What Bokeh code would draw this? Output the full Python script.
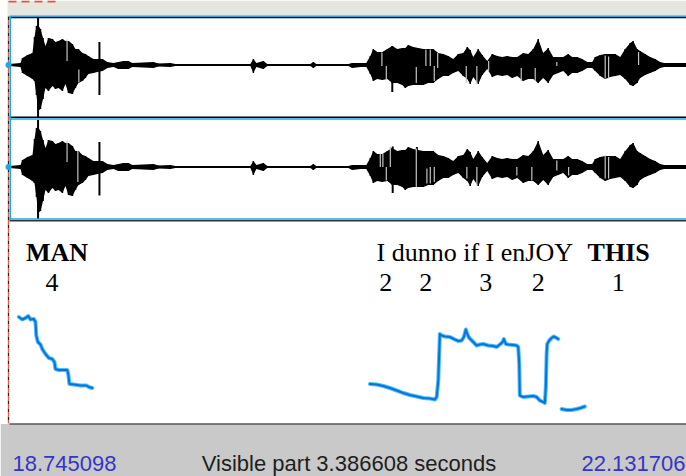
from bokeh.plotting import figure
from bokeh.models import Range1d, ColumnDataSource
from bokeh.embed import file_html
from bokeh.resources import INLINE
from bokeh.core.properties import value

# ---------------- data ----------------
T_START = 18.745098
T_END = 22.131706
VISIBLE = "Visible part 3.386608 seconds"

# waveform envelope (same signal in both channels), time in s, amplitude normalised
env_t = [18.745, 18.800, 18.810, 18.835, 18.860, 18.870, 18.880, 18.888, 18.900, 18.913,
         18.925, 18.940, 18.960, 18.975, 18.990, 19.010, 19.025, 19.040, 19.060, 19.075,
         19.090, 19.110, 19.125, 19.140, 19.165, 19.185, 19.210, 19.235, 19.265, 19.290,
         19.315, 19.340, 19.360, 19.465, 19.490, 19.550, 19.575, 19.950, 19.965, 19.980,
         20.015, 20.035, 20.250, 20.265, 20.280, 20.440, 20.460, 20.500, 20.530, 20.550,
         20.565, 20.585, 20.610, 20.635, 20.660, 20.685, 20.710, 20.725, 20.740, 20.765,
         20.790, 20.815, 20.840, 20.865, 20.890, 20.915, 20.940, 20.965, 20.990, 21.015,
         21.035, 21.050, 21.065, 21.090, 21.110, 21.135, 21.160, 21.185, 21.210, 21.235,
         21.260, 21.285, 21.315, 21.340, 21.365, 21.390, 21.415, 21.440, 21.465, 21.490,
         21.515, 21.540, 21.560, 21.585, 21.610, 21.635, 21.660, 21.675, 21.700, 21.725,
         21.750, 21.775, 21.800, 21.825, 21.850, 21.865, 21.885, 21.900, 21.925, 21.950,
         21.975, 22.000, 22.020, 22.132]
env_up = [0.02, 0.04, 0.14, 0.20, 0.24, 0.56, 0.78, 0.80, 0.72, 0.54,
          0.38, 0.54, 0.52, 0.46, 0.48, 0.52, 0.48, 0.48, 0.42, 0.32,
          0.32, 0.24, 0.22, 0.18, 0.12, 0.12, 0.12, 0.06, 0.04, 0.06,
          0.08, 0.08, 0.04, 0.06, 0.03, 0.04, 0.02, 0.02, 0.12, 0.04,
          0.08, 0.02, 0.02, 0.06, 0.02, 0.02, 0.04, 0.04, 0.04, 0.18,
          0.32, 0.26, 0.26, 0.32, 0.38, 0.32, 0.34, 0.34, 0.40, 0.36,
          0.34, 0.32, 0.32, 0.32, 0.24, 0.22, 0.18, 0.12, 0.22, 0.24,
          0.36, 0.30, 0.16, 0.32, 0.20, 0.08, 0.22, 0.18, 0.16, 0.18,
          0.16, 0.16, 0.24, 0.22, 0.32, 0.52, 0.24, 0.34, 0.16, 0.16,
          0.16, 0.22, 0.16, 0.16, 0.12, 0.06, 0.06, 0.16, 0.20, 0.22,
          0.22, 0.22, 0.16, 0.32, 0.44, 0.48, 0.32, 0.28, 0.22, 0.16,
          0.12, 0.06, 0.04, 0.04]
env_lo = [-0.02, -0.04, -0.16, -0.22, -0.28, -0.32, -0.60, -0.92, -0.88, -0.68,
          -0.46, -0.52, -0.42, -0.48, -0.46, -0.52, -0.38, -0.56, -0.58, -0.46,
          -0.36, -0.32, -0.26, -0.18, -0.16, -0.14, -0.12, -0.06, -0.04, -0.08,
          -0.08, -0.08, -0.04, -0.06, -0.03, -0.04, -0.02, -0.02, -0.16, -0.04,
          -0.08, -0.02, -0.02, -0.06, -0.02, -0.02, -0.06, -0.04, -0.04, -0.18,
          -0.32, -0.28, -0.30, -0.28, -0.36, -0.36, -0.40, -0.46, -0.42, -0.40,
          -0.40, -0.40, -0.36, -0.36, -0.28, -0.22, -0.22, -0.16, -0.12, -0.22,
          -0.28, -0.38, -0.24, -0.38, -0.20, -0.08, -0.24, -0.20, -0.22, -0.20,
          -0.26, -0.22, -0.32, -0.28, -0.28, -0.36, -0.26, -0.36, -0.20, -0.16,
          -0.12, -0.22, -0.16, -0.16, -0.12, -0.06, -0.06, -0.12, -0.22, -0.28,
          -0.24, -0.22, -0.20, -0.28, -0.40, -0.42, -0.36, -0.26, -0.20, -0.16,
          -0.12, -0.06, -0.04, -0.04]

# isolated peaks (time, top, bottom)
ch1_spike_t = [18.888, 19.195, 20.660]
ch1_spike_top = [0.94, 0.46, 0.38]
ch1_spike_bot = [-1.04, -0.60, -0.54]
ch2_spike_t = [18.888, 19.195, 20.662, 20.783]
ch2_spike_top = [0.94, 0.50, 0.41, 0.40]
ch2_spike_bot = [-1.04, -0.57, -0.52, -0.30]

# light gaps inside the dense waveform (time, top, bottom)
ch1_gap_t = [19.033, 19.092, 20.608, 20.630, 20.780, 20.828, 20.850, 20.870, 20.887,
             21.030, 21.083, 21.142, 21.305, 21.375, 21.483, 21.725, 21.742, 21.892]
ch1_gap_top = [0.51, -0.09, 0.25, -0.02, -0.04, 0.31, 0.31, -0.02, 0.24,
               -0.02, -0.02, 0.08, -0.06, -0.06, 0.06, 0.19, 0.17, 0.26]
ch1_gap_bot = [0.08, -0.35, -0.02, -0.29, -0.36, -0.02, -0.02, -0.32, -0.06,
               -0.36, -0.38, -0.12, -0.32, -0.32, -0.02, -0.27, -0.27, 0.00]
ch2_gap_t = [19.033, 19.087, 20.600, 20.613, 20.630, 20.650, 20.780, 20.833, 20.850,
             20.870, 21.033, 21.083, 21.283, 21.358, 21.483, 21.542, 21.725, 21.742]
ch2_gap_top = [0.53, 0.33, 0.27, 0.27, 0.00, 0.40, 0.37, -0.03, 0.00,
               0.00, 0.00, 0.00, 0.00, 0.00, 0.13, 0.00, 0.23, 0.20]
ch2_gap_bot = [0.10, -0.30, 0.00, 0.00, -0.27, 0.00, -0.40, -0.33, -0.33,
               -0.30, -0.23, -0.37, -0.17, -0.27, -0.07, -0.17, -0.23, -0.23]

# pitch contour (Hz); NaN separates voiced stretches
nan = float("nan")
pitch_t = [18.792, 18.809, 18.825, 18.839, 18.850, 18.867, 18.875, 18.879, 18.887, 18.900,
           18.909, 18.925, 18.942, 18.959, 18.970, 18.975, 18.992, 19.034, 19.039, 19.045,
           19.067, 19.100, 19.130, 19.142, 19.159, nan,
           20.548, 20.582, 20.615, 20.648, 20.682, 20.715, 20.748, 20.782, 20.815, 20.848,
           20.873, 20.882, 20.890, 20.898, 20.907, 20.923, 20.948, 20.973, 20.990, 21.007,
           21.018, 21.028, 21.035, 21.045, 21.065, 21.082, 21.098, 21.115, 21.140, 21.165,
           21.182, 21.198, 21.212, 21.218, 21.228, 21.240, 21.265, 21.282, 21.290, 21.295,
           21.298, 21.315, 21.340, 21.365, 21.382, 21.398, 21.415, 21.423, 21.428, 21.432,
           21.435, 21.445, 21.457, 21.468, 21.482, 21.490, nan,
           21.507, 21.532, 21.557, 21.582, 21.602, 21.623]
pitch_hz = [290, 285, 288, 292, 285, 286, 280, 253, 240, 235,
            226, 216, 208, 206, 200, 186, 184, 184, 176, 156,
            155, 153, 153, 150, 148, nan,
            156, 155, 152, 148, 143, 138, 134, 131, 128, 127,
            125, 130, 163, 256, 253, 251, 250, 245, 242, 243,
            250, 265, 256, 248, 240, 233, 235, 236, 233, 232,
            230, 235, 240, 246, 236, 235, 234, 233, 230, 196,
            133, 130, 131, 132, 130, 123, 120, 118, 150, 216,
            236, 243, 248, 251, 248, 246, nan,
            106, 104, 104, 106, 108, 111]

# text tier
word_labels = ["MAN", "I dunno if I enJOY", "THIS"]
word_t = [18.9825, 21.0725, 21.7925]
word_bold = [True, False, True]
break_labels = ["4", "2", "2", "3", "2", "1"]
break_t = [18.9575, 20.6275, 20.8275, 21.1275, 21.390, 21.790]

# ---------------- layout ----------------
W, H = 686, 476
LEFT = 9                      # pixel column where the visible window starts
spp = (T_END - T_START) / (W - LEFT)
x0 = T_START - LEFT * spp

p = figure(width=W, height=H, output_backend="svg", toolbar_location=None,
           x_range=Range1d(x0, T_END), y_range=Range1d(H, 0),
           x_axis_type=None, y_axis_type=None,
           min_border=0, min_border_left=0, min_border_right=0,
           min_border_top=0, min_border_bottom=0, outline_line_color=None)
p.background_fill_color = "white"
p.border_fill_color = "white"
p.grid.visible = False
p.extra_x_ranges = {"px": Range1d(0, W)}

def amp_range(center_px, px_per_unit=50.0):
    return Range1d(-(H - center_px) / px_per_unit, center_px / px_per_unit)

C1, C2 = 64.5, 166.5
p.extra_y_ranges = {
    "ch1": amp_range(C1),
    "ch2": amp_range(C2),
    # pitch: 75 Hz at pixel row 424, 2 Hz per pixel
    "pitch": Range1d(75 - (H - 424) * 2.0, 75 + 424 * 2.0),
}

# window chrome
p.quad(left=7, right=W, top=0, bottom=15.5, fill_color="#e6e6e0", line_color=None, x_range_name="px")
p.quad(left=0, right=W, top=423.5, bottom=H, fill_color="#c9c9c9", line_color=None, x_range_name="px")
p.segment(x0=9, y0=423.5, x1=W, y1=423.5, line_color="#555555", line_width=1.5, x_range_name="px")

# waveforms
for ch, sp_t, sp_top, sp_bot, g_t, g_top, g_bot in (
        ("ch1", ch1_spike_t, ch1_spike_top, ch1_spike_bot, ch1_gap_t, ch1_gap_top, ch1_gap_bot),
        ("ch2", ch2_spike_t, ch2_spike_top, ch2_spike_bot, ch2_gap_t, ch2_gap_top, ch2_gap_bot)):
    p.varea(x=env_t, y1=env_lo, y2=env_up, fill_color="black", y_range_name=ch)
    p.segment(x0=env_t, y0=env_lo, x1=env_t, y1=env_up, line_color="black", line_width=1.5,
              y_range_name=ch)
    p.segment(x0=sp_t, y0=sp_bot, x1=sp_t, y1=sp_top, line_color="black", line_width=2,
              y_range_name=ch)
    p.segment(x0=g_t, y0=g_bot, x1=g_t, y1=g_top, line_color="#c4c4c4", line_width=1.2,
              y_range_name=ch)

# channel boxes
BLUE = "#1ea6e6"
p.segment(x0=9, y0=15.8, x1=W, y1=15.8, line_color=BLUE, line_width=1.5, x_range_name="px")
p.segment(x0=9, y0=17.2, x1=W, y1=17.2, line_color="black", line_width=1.2, x_range_name="px")
p.segment(x0=9, y0=116.8, x1=W, y1=116.8, line_color="black", line_width=1.5, x_range_name="px")
p.segment(x0=9, y0=118.4, x1=W, y1=118.4, line_color=BLUE, line_width=1.5, x_range_name="px")
p.segment(x0=9, y0=218.5, x1=W, y1=218.5, line_color=BLUE, line_width=1.5, x_range_name="px")
p.segment(x0=9, y0=220.3, x1=W, y1=220.3, line_color="#333333", line_width=1.5, x_range_name="px")
p.segment(x0=9.8, y0=16, x1=9.8, y1=219, line_color=BLUE, line_width=1.5, x_range_name="px")

# cursor-like dashed left edge and top red dashes
p.segment(x0=8, y0=16, x1=8, y1=423, line_color="#222222", line_width=1.3,
          line_dash="4 4", x_range_name="px")
p.segment(x0=8, y0=16, x1=8, y1=423, line_color="#e8553a", line_width=1.3,
          line_dash="4 4", line_dash_offset=4, x_range_name="px")
p.segment(x0=8, y0=1, x1=58, y1=1, line_color="#e8553a", line_width=2,
          line_dash="8 5", x_range_name="px")
p.scatter(x=[8, 8], y=[C1, C2], size=6, fill_color=BLUE, line_color=None, x_range_name="px")

# text tier
serif = value("Liberation Serif")
bold_idx = [i for i, b in enumerate(word_bold) if b]
norm_idx = [i for i, b in enumerate(word_bold) if not b]
p.text(x=[word_t[i] for i in bold_idx], y=[252] * len(bold_idx),
       text=[word_labels[i] for i in bold_idx], text_font=serif, text_font_style="bold",
       text_font_size="26px", text_align="center", text_baseline="alphabetic", text_color="black")
p.text(x=[word_t[i] for i in norm_idx], y=[252] * len(norm_idx),
       text=[word_labels[i] for i in norm_idx], text_font=serif,
       text_font_size="26px", text_align="center", text_baseline="alphabetic", text_color="black")
p.text(x=break_t, y=[282] * len(break_t), text=break_labels, text_font=serif,
       text_font_size="26px", text_align="center", text_baseline="alphabetic", text_color="black")

# pitch contour
p.line(x=pitch_t, y=pitch_hz, line_color="#4cc0ff", line_width=4, y_range_name="pitch",
       line_join="round", line_cap="round")
p.line(x=pitch_t, y=pitch_hz, line_color="#0a72d8", line_width=2, y_range_name="pitch",
       line_join="round", line_cap="round")

# status bar texts
sans = value("Liberation Sans")
p.text(x=[12], y=[463], text=[f"{T_START:.6f}"], text_font=sans, text_font_size="22px",
       text_color="#3535c8", text_align="left", text_baseline="alphabetic", x_range_name="px")
p.text(x=[348.5], y=[463], text=[VISIBLE], text_font=sans, text_font_size="22px",
       text_color="#1e1e1e", text_align="center", text_baseline="alphabetic", x_range_name="px")
p.text(x=[685], y=[463], text=[f"{T_END:.6f}"], text_font=sans, text_font_size="22px",
       text_color="#3535c8", text_align="right", text_baseline="alphabetic", x_range_name="px")

open("out.html", "w").write(file_html(p, INLINE))
